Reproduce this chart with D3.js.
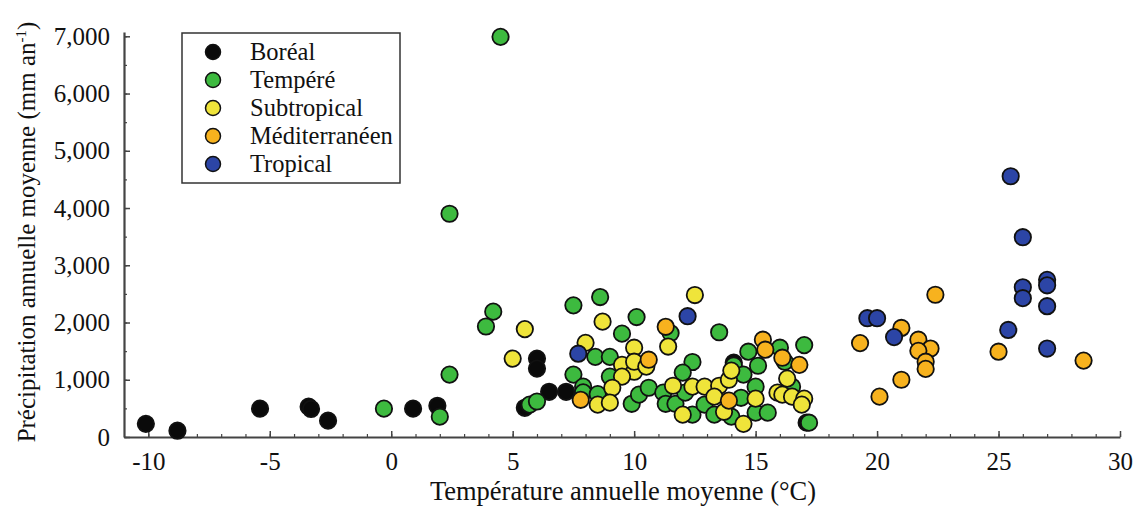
<!DOCTYPE html>
<html><head><meta charset="utf-8">
<script src="https://cdn.jsdelivr.net/npm/d3@7"></script>
<style>body{margin:0;background:#fff}svg{display:block}text{font-family:"Liberation Serif","DejaVu Serif",serif}</style>
</head><body><svg id="c" width="1133" height="511"></svg>
<script>
const categories = ["Boréal","Tempéré","Subtropical","Méditerranéen","Tropical"];
const colors = ["#0a0a0a","#3dba3f","#efe43a","#f7b21e","#2c45a6"];
const boreal = [[-10.1,230],[-8.8,110],[-5.4,495],[-3.4,530],[-3.3,490],[-2.6,285],[0.9,495],[1.9,545],[5.5,510],[6.0,1370],[6.0,1195],[6.5,790],[7.2,790],[14.1,1300],[17.1,250]];
const tempere = [[4.5,6990],[2.4,3900],[4.2,2190],[3.9,1930],[2.4,1090],[2.0,355],[-0.3,495],[5.7,565],[6.0,620],[7.5,2300],[8.6,2445],[10.1,2095],[9.5,1805],[8.4,1400],[9.0,1400],[7.5,1090],[7.9,880],[7.9,780],[8.5,750],[9.0,1055],[9.9,580],[10.2,740],[10.6,860],[11.5,1815],[13.5,1830],[12.4,1310],[12.0,1125],[14.1,1250],[14.5,1090],[14.7,1490],[15.1,1245],[16.0,1560],[16.2,1315],[15.0,880],[15.0,425],[15.5,425],[11.2,775],[11.3,580],[11.7,580],[12.1,775],[12.4,390],[12.9,565],[13.3,390],[14.0,355],[14.4,685],[17.0,1605],[16.5,880],[17.2,250]];
const subtropical = [[5.5,1885],[5.0,1370],[8.7,2015],[8.0,1645],[10.0,1560],[9.5,1260],[10.0,1140],[10.0,1315],[9.5,1055],[9.1,860],[8.5,565],[9.0,600],[12.5,2480],[11.4,1580],[10.5,1230],[11.6,895],[12.4,880],[12.9,880],[13.5,895],[13.9,1000],[14.0,1160],[13.3,705],[13.7,440],[12.0,390],[14.5,230],[15.0,670],[15.9,775],[16.3,1020],[16.1,740],[16.5,705],[17.0,670],[16.9,565]];
const mediterraneen = [[7.8,650],[11.3,1925],[10.6,1350],[13.9,635],[15.3,1700],[15.4,1525],[16.1,1385],[16.8,1260],[19.3,1640],[20.1,705],[22.4,2485],[21.0,1905],[21.7,1700],[22.2,1545],[21.7,1505],[22.0,1315],[22.0,1190],[21.0,1000],[25.0,1490],[28.5,1335]];
const tropical = [[7.7,1455],[12.2,2110],[19.6,2075],[20.0,2075],[20.7,1745],[25.5,4555],[26.0,3490],[26.0,2615],[26.0,2425],[27.0,2745],[27.0,2650],[27.0,2285],[25.4,1870],[27.0,1545]];
const seriesData = [boreal,tempere,subtropical,mediterraneen,tropical];
const xTicks = [-10,-5,0,5,10,15,20,25,30];
const yTicks = [0,1000,2000,3000,4000,5000,6000,7000];

const svg = d3.select("#c");
const x = d3.scaleLinear().domain([-11,30]).range([124,1120]);
const y = d3.scaleLinear().domain([0,7075]).range([437,32]);
const axisColor = "#444";

// minor ticks
const gxm = svg.append("g").attr("transform","translate(0,437)")
  .call(d3.axisBottom(x).tickValues(d3.range(-10,31,1)).tickSize(-3).tickFormat(""));
const gym = svg.append("g").attr("transform","translate(124,0)")
  .call(d3.axisLeft(y).tickValues(d3.range(0,7001,500)).tickSize(-3).tickFormat(""));
[gxm,gym].forEach(g=>{g.selectAll("line").attr("stroke",axisColor).attr("stroke-width",1.2);g.select(".domain").remove();});

const gx = svg.append("g").attr("transform","translate(0,437)")
  .call(d3.axisBottom(x).tickValues(xTicks).tickSize(-6).tickSizeOuter(0).tickPadding(15).tickFormat(d=>String(d)));
const gy = svg.append("g").attr("transform","translate(124,0)")
  .call(d3.axisLeft(y).tickValues(yTicks).tickSize(-6).tickSizeOuter(0).tickPadding(14).tickFormat(d3.format(",")));
[gx,gy].forEach(g=>{
  g.select(".domain").attr("stroke",axisColor).attr("stroke-width",2.2);
  g.selectAll(".tick line").attr("stroke",axisColor).attr("stroke-width",1.5);
  g.selectAll("text").attr("fill","#111").style("font-size","25px").style("font-family","'Liberation Serif',serif");
});

// points
seriesData.forEach((arr,i)=>{
  svg.append("g").selectAll("circle").data(arr).join("circle")
    .attr("cx",d=>x(d[0])).attr("cy",d=>y(d[1])).attr("r",8.2)
    .attr("fill",colors[i]).attr("stroke","#111").attr("stroke-width",1.8);
});

// axis titles
svg.append("text").attr("x",623).attr("y",500).attr("text-anchor","middle")
  .style("font-size","26.5px").attr("fill","#111").text("Température annuelle moyenne (°C)");
const yt = svg.append("text").attr("transform","translate(35,232) rotate(-90)").attr("text-anchor","middle")
  .style("font-size","25px").attr("fill","#111");
yt.append("tspan").text("Précipitation annuelle moyenne (mm an");
yt.append("tspan").attr("dy",-9).style("font-size","15px").text("-1");
yt.append("tspan").attr("dy",9).text(")");

// legend
const lg = svg.append("g");
lg.append("rect").attr("x",182).attr("y",33).attr("width",218).attr("height",150)
  .attr("fill","#fff").attr("stroke","#333").attr("stroke-width",1.5);
categories.forEach((c,i)=>{
  const cy = 52 + i*28;
  lg.append("circle").attr("cx",213).attr("cy",cy).attr("r",7.5).attr("fill",colors[i]).attr("stroke","#111").attr("stroke-width",1.5);
  lg.append("text").attr("x",250).attr("y",cy).attr("dy","0.33em").style("font-size","24.5px").attr("fill","#111").text(c);
});
</script></body></html>
